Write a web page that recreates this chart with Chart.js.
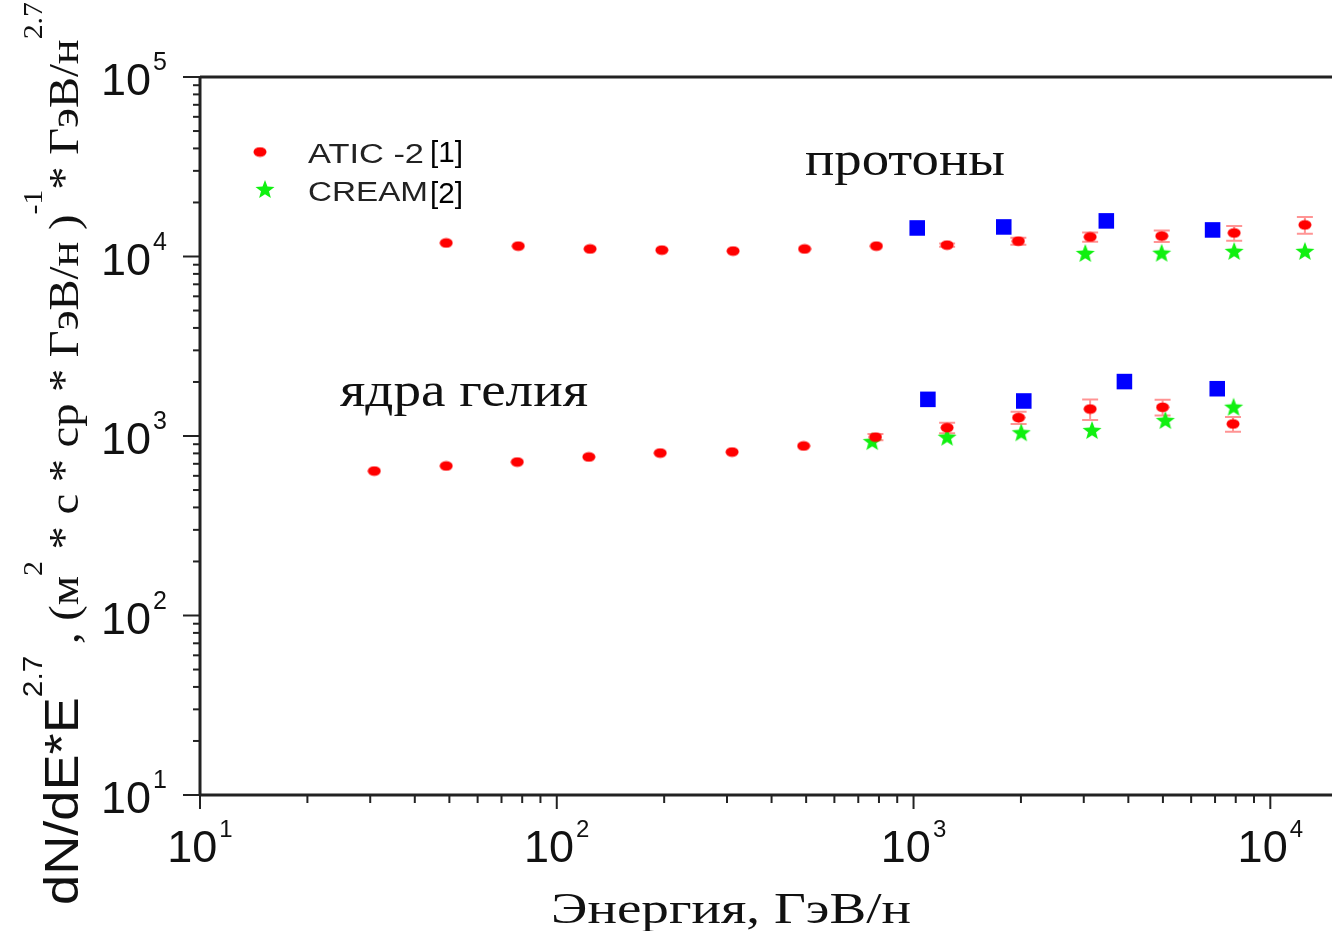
<!DOCTYPE html>
<html>
<head>
<meta charset="utf-8">
<script src="https://cdn.jsdelivr.net/npm/chart.js@4.4.1/dist/chart.umd.min.js"></script>
<style>
  html, body { margin: 0; padding: 0; background: #fff; overflow: hidden; }
  canvas { display: block; }
</style>
</head>
<body>
<canvas id="chart" width="1332" height="931"></canvas>
<script>
// Energy, GeV/n  and  dN/dE * E^2.7
const aticProtonE    = [49, 78, 124, 197, 312, 495, 787, 1242, 1967, 3126, 4963, 7920, 12500];
const aticProtonFlux = [11900, 11430, 11010, 10860, 10730, 11010, 11430, 11580, 12180, 12850, 13000, 13520, 15000];
const aticProtonErr  = [0, 0, 0, 0, 0, 0, 0, 250, 550, 770, 950, 1270, 1620];

const aticHeliumE    = [30.8, 49, 77.5, 123, 195, 310, 492, 782, 1242, 1970, 3126, 4990, 7860];
const aticHeliumFlux = [638, 681, 716, 764, 804, 814, 880, 986, 1112, 1265, 1413, 1445, 1167];
const aticHeliumErr  = [0, 0, 0, 0, 0, 0, 0, 40, 75, 100, 185, 145, 110];

const creamProtonE    = [3030, 4960, 7920, 12500];
const creamProtonFlux = [10460, 10500, 10740, 10740];
const creamHeliumE    = [766, 1242, 2004, 3165, 5080, 7890];
const creamHeliumFlux = [937, 991, 1049, 1080, 1227, 1456];

const otherProtonE    = [1024, 1790, 3470, 6890];
const otherProtonFlux = [14420, 14610, 15790, 14060];
const otherHeliumE    = [1097, 2037, 3900, 7100];
const otherHeliumFlux = [1600, 1567, 2010, 1834];

const xDecades = [1, 2, 3, 4];
const yDecades = [1, 2, 3, 4, 5];

const SERIF = '"Liberation Serif", "Times New Roman", serif';
const SANS = '"Liberation Sans", Arial, sans-serif';

const toPoints = (xs, ys) => xs.map((x, i) => ({ x: x, y: ys[i] }));

// --- marker images ---
function makeDot() {
    const c = document.createElement('canvas');
    c.width = 14; c.height = 11;
    const g = c.getContext('2d');
    g.fillStyle = '#ff0000';
    g.beginPath();
    g.ellipse(7, 5.5, 6.5, 4.8, 0, 0, Math.PI * 2);
    g.fill();
    return c;
}
function makeStar() {
    const c = document.createElement('canvas');
    c.width = 22; c.height = 22;
    const g = c.getContext('2d');
    g.fillStyle = '#10f010';
    g.beginPath();
    for (let i = 0; i < 10; i++) {
        const r = i % 2 === 0 ? 10 : 4.2;
        const a = -Math.PI / 2 + i * Math.PI / 5;
        const px = 11 + r * Math.cos(a), py = 12 + r * Math.sin(a);
        if (i === 0) g.moveTo(px, py); else g.lineTo(px, py);
    }
    g.closePath();
    g.fill();
    return c;
}
const dotImg = makeDot();
const starImg = makeStar();

function stretchText(ctx, str, x, y, font, width, align) {
    ctx.save();
    ctx.font = font;
    const w = ctx.measureText(str).width;
    const s = width ? width / w : 1;
    let x0 = x;
    if (align === 'center') x0 = x - w * s / 2;
    else if (align === 'right') x0 = x - w * s;
    ctx.translate(x0, y);
    ctx.scale(s, 1);
    ctx.textAlign = 'left';
    ctx.textBaseline = 'alphabetic';
    ctx.fillText(str, 0, 0);
    ctx.restore();
}

// --- error bars, drawn under the markers ---
const errorBars = {
    id: 'errorBars',
    beforeDatasetsDraw(chart) {
        const ctx = chart.ctx;
        const ys = chart.scales.y;
        ctx.save();
        ctx.strokeStyle = 'rgba(255, 60, 60, 0.55)';
        ctx.lineWidth = 2;
        chart.data.datasets.forEach((ds, i) => {
            if (!ds.errors) return;
            const meta = chart.getDatasetMeta(i);
            meta.data.forEach((pt, j) => {
                const e = ds.errors[j];
                if (!e) return;
                const v = ds.data[j].y;
                const top = ys.getPixelForValue(v + e);
                const bot = ys.getPixelForValue(v - e);
                ctx.beginPath();
                ctx.moveTo(pt.x, top); ctx.lineTo(pt.x, bot);
                ctx.moveTo(pt.x - 8, top); ctx.lineTo(pt.x + 8, top);
                ctx.moveTo(pt.x - 8, bot); ctx.lineTo(pt.x + 8, bot);
                ctx.stroke();
            });
        });
        ctx.restore();
    }
};

// --- frame, ticks, labels, titles, legend ---
const frame = {
    id: 'frame',
    afterDraw(chart) {
        const ctx = chart.ctx;
        const xs = chart.scales.x, ys = chart.scales.y;
        const a = chart.chartArea;
        const right = chart.width;
        ctx.save();
        ctx.strokeStyle = '#222';
        ctx.fillStyle = '#111';
        ctx.lineWidth = 3;
        ctx.beginPath();
        ctx.moveTo(a.left, a.top); ctx.lineTo(a.left, a.bottom);
        ctx.moveTo(a.left, a.bottom); ctx.lineTo(right, a.bottom);
        ctx.moveTo(a.left, a.top); ctx.lineTo(right, a.top);
        ctx.stroke();

        // y ticks (outside, to the left)
        ctx.lineWidth = 2;
        yDecades.forEach(n => {
            for (let k = 1; k <= 9; k++) {
                const v = k * Math.pow(10, n);
                if (v > ys.max) break;
                const py = ys.getPixelForValue(v);
                const len = k === 1 ? 17 : 7;
                ctx.beginPath();
                ctx.moveTo(a.left, py); ctx.lineTo(a.left - len, py);
                ctx.stroke();
            }
            const py = ys.getPixelForValue(Math.pow(10, n));
            ctx.font = '45px ' + SANS;
            ctx.textAlign = 'right';
            ctx.fillText('10', 151, py + 18);
            ctx.font = '25px ' + SANS;
            ctx.textAlign = 'left';
            ctx.fillText(String(n), 153, py - 7);
        });

        // x ticks (outside, downward)
        xDecades.forEach(n => {
            for (let k = 1; k <= 9; k++) {
                const v = k * Math.pow(10, n);
                if (v > xs.max) break;
                const px = xs.getPixelForValue(v);
                const len = k === 1 ? 14 : 8;
                ctx.beginPath();
                ctx.moveTo(px, a.bottom); ctx.lineTo(px, a.bottom + len);
                ctx.stroke();
            }
            const px = xs.getPixelForValue(Math.pow(10, n));
            ctx.font = '45px ' + SANS;
            const w1 = ctx.measureText('10').width;
            ctx.font = '24px ' + SANS;
            const w2 = ctx.measureText(String(n)).width;
            const x0 = px - (w1 + 2 + w2) / 2;
            ctx.textAlign = 'left';
            ctx.font = '45px ' + SANS;
            ctx.fillText('10', x0, 862);
            ctx.font = '24px ' + SANS;
            ctx.fillText(String(n), x0 + w1 + 2, 837);
        });

        // x title
        stretchText(ctx, 'Энергия, ГэВ/н', 731, 923, '45px ' + SERIF, 360, 'center');

        // y title, rotated, assembled from pieces
        const parts = [
            { t: 'dN/dE*E', f: '49px ' + SANS, dy: 0 },
            { t: '2.7', f: '27px ' + SANS, dy: -36 },
            { t: ' , (', f: '42px ' + SERIF, dy: 0 },
            { t: 'м', f: '42px ' + SERIF, dy: 0 },
            { t: '2', f: '27px ' + SERIF, dy: -36 },
            { t: ' * с * ср * ГэВ/н )', f: '42px ' + SERIF, dy: 0 },
            { t: '-1', f: '27px ' + SERIF, dy: -36 },
            { t: '* ГэВ/н', f: '42px ' + SERIF, dy: 0 },
            { t: '2.7', f: '27px ' + SERIF, dy: -36 }
        ];
        let total = 0;
        parts.forEach(p => { ctx.font = p.f; p.w = ctx.measureText(p.t).width; total += p.w; });
        const sx = 903 / total;
        ctx.save();
        ctx.translate(78, 905);
        ctx.rotate(-Math.PI / 2);
        ctx.scale(sx, 1);
        ctx.textAlign = 'left';
        let cx = 0;
        parts.forEach(p => {
            ctx.font = p.f;
            ctx.fillText(p.t, cx, p.dy);
            cx += p.w;
        });
        ctx.restore();

        // annotations
        stretchText(ctx, 'протоны', 805, 175, '48px ' + SERIF, 200, 'left');
        stretchText(ctx, 'ядра гелия', 340, 406, '48px ' + SERIF, 248, 'left');

        // legend
        ctx.drawImage(dotImg, 260 - 7, 152 - 5.5);
        ctx.drawImage(starImg, 265 - 11, 190 - 12);
        ctx.fillStyle = '#222';
        stretchText(ctx, 'ATIC -2', 308, 163, '27px ' + SANS, 116, 'left');
        stretchText(ctx, 'CREAM', 308, 201, '27px ' + SANS, 120, 'left');
        ctx.fillStyle = '#000';
        stretchText(ctx, '[1]', 430, 162, '30px ' + SANS, 33, 'left');
        stretchText(ctx, '[2]', 430, 203, '30px ' + SANS, 33, 'left');
        ctx.restore();
    }
};

const ctx = document.getElementById('chart');
new Chart(ctx, {
    type: 'scatter',
    data: {
        datasets: [
            { label: 'ATIC-2 p', data: toPoints(aticProtonE, aticProtonFlux), errors: aticProtonErr,
              pointStyle: dotImg, order: 0 },
            { label: 'ATIC-2 He', data: toPoints(aticHeliumE, aticHeliumFlux), errors: aticHeliumErr,
              pointStyle: dotImg, order: 0 },
            { label: 'CREAM p', data: toPoints(creamProtonE, creamProtonFlux), pointStyle: starImg, order: 1 },
            { label: 'CREAM He', data: toPoints(creamHeliumE, creamHeliumFlux), pointStyle: starImg, order: 1 },
            { label: 'p', data: toPoints(otherProtonE, otherProtonFlux), pointStyle: 'rect', pointRadius: 11,
              backgroundColor: '#0000ff', borderWidth: 0, order: 2 },
            { label: 'He', data: toPoints(otherHeliumE, otherHeliumFlux), pointStyle: 'rect', pointRadius: 11,
              backgroundColor: '#0000ff', borderWidth: 0, order: 2 }
        ]
    },
    options: {
        responsive: false,
        animation: false,
        devicePixelRatio: 1,
        layout: { padding: { left: 200, top: 77, right: 0, bottom: 136 } },
        plugins: { legend: { display: false }, tooltip: { enabled: false } },
        scales: {
            x: { type: 'logarithmic', min: 10, max: 13870,
                 ticks: { display: false }, grid: { display: false, drawTicks: false }, border: { display: false } },
            y: { type: 'logarithmic', min: 10, max: 100000,
                 ticks: { display: false }, grid: { display: false, drawTicks: false }, border: { display: false } }
        }
    },
    plugins: [errorBars, frame]
});
</script>
</body>
</html>
